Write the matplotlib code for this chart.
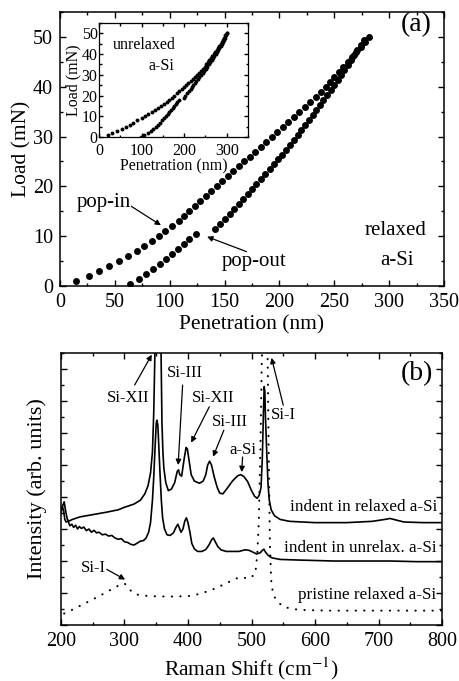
import matplotlib

matplotlib.use("Agg")
import matplotlib.pyplot as plt
from matplotlib.ticker import MultipleLocator, NullFormatter

plt.rcParams["font.family"] = ["Liberation Serif", "DejaVu Serif"]
plt.rcParams["mathtext.fontset"] = "stix"

# (a) relaxed a-Si: load (mN) and penetration (nm)
load_in = [1, 2, 3, 4, 5, 6, 7, 8, 9, 10, 11, 12, 13, 14, 15, 16, 17, 18, 19, 20,
           21, 22, 23, 24, 25, 26, 27, 28, 29, 30, 31, 32, 33, 34, 35, 36, 37, 38, 39, 40,
           41, 42, 43, 44, 45, 46, 47, 48, 49, 50]
pen_in = [15, 26, 36, 45, 54, 62, 70, 77, 84, 90, 96, 102, 108, 113, 118, 123, 128, 133, 138, 143,
          148, 153, 158, 163, 168, 173, 178, 183, 188, 193, 198, 203, 208, 213, 218, 223, 228, 233, 238, 242,
          246, 250, 254, 258, 262, 266, 270, 274, 278, 282]
load_out = [0.4, 1.4, 2.4, 3.4, 4.4, 5.4, 6.4, 7.4, 8.4, 9.4, 10.4,
            11.4, 12.4, 13.4, 14.4, 15.4, 16.4, 17.4, 18.4, 19.4, 20.4, 21.4, 22.4, 23.4, 24.4,
            25.4, 26.4, 27.4, 28.4, 29.4, 30.4, 31.4, 32.4, 33.4, 34.4, 35.4, 36.4, 37.4, 38.4,
            39.4, 40.4, 41.4, 42.4, 43.4, 44.4, 45.4, 46.4, 47.4, 48.4, 49.4]
pen_out = [64, 72, 78.5, 85, 91, 96.5, 102, 107.5, 113, 118, 123.5,
           141, 146, 150.5, 155, 159, 163, 167, 171, 175, 179, 183, 187, 191, 195,
           199, 202.5, 206, 209.5, 213, 216.5, 220, 223.5, 227, 230.5, 233.5, 237, 240, 243.5,
           246.5, 250, 253, 256, 259, 262, 265, 268, 271, 274, 277]

# inset: unrelaxed a-Si
ins_load_in = list(range(1, 51))
ins_pen_in = [20, 31, 43, 53, 63, 72, 81, 90, 100, 108, 116, 124, 132, 139, 146, 152, 159, 165, 171, 177,
              183, 189, 194, 199, 205, 210, 215, 220, 225, 230, 234.5, 239, 243.5, 248, 252, 256, 259.5, 263,
              266.5, 270, 273.5, 277, 280, 283, 286, 289, 292, 294.5, 297, 300]
ins_load_out = list(range(0, 51))
ins_pen_out = [98, 106, 114, 122, 128, 134, 139, 144, 147, 152, 157, 161, 165, 169, 173, 177, 180, 183.5, 187,
               199, 203, 207, 211, 215, 218.5, 222, 225.5, 229, 232.5, 236, 240, 243.5, 247, 250.5, 254,
               257.5, 261, 264.5, 268, 271, 274, 277, 280, 283, 286, 288.5, 291, 293.5, 296, 298, 300]

# (b) Raman spectra (arb. units, offset)
shift_relaxed = [200, 203, 205, 207, 210, 213, 218, 230, 250, 270, 290, 300, 315, 325, 332, 337, 341, 344,
                 346, 348, 350, 352, 354, 356, 357.5, 359, 360.5, 362, 365, 369, 374, 379, 383, 385, 387,
                 390, 394, 397, 399, 402, 405, 410, 418, 424, 428, 431, 434, 437, 441, 446, 450, 455, 462,
                 470, 478, 483, 488, 494, 500, 505, 509, 512, 515, 517, 519, 520, 521, 522, 524, 526, 528,
                 531, 536, 545, 560, 600, 650, 690, 710, 718, 728, 740, 770, 800]
int_relaxed = [3.55, 3.75, 3.85, 3.6, 3.3, 3.25, 3.3, 3.38, 3.45, 3.52, 3.6, 3.68, 3.78, 3.9, 4.1, 4.35, 4.75, 5.4,
               6.6, 8.6, 11, 12, 11.5, 10, 8.6, 6.3, 5.4, 4.9, 4.45, 4.2, 4.25, 4.45, 4.8, 4.85, 4.7,
               4.65, 5.2, 5.55, 5.5, 5.1, 4.7, 4.5, 4.43, 4.5, 4.7, 5.0, 5.12, 5.0, 4.65, 4.3, 4.12, 4.1, 4.28,
               4.5, 4.66, 4.7, 4.64, 4.48, 4.2, 4.02, 3.96, 4.05, 4.3, 5.2, 6.8, 7.45, 7.3, 6.5, 5.4, 4.4, 3.9,
               3.6, 3.42, 3.3, 3.24, 3.2, 3.2, 3.24, 3.3, 3.33, 3.28, 3.22, 3.2, 3.2]

shift_unrelax = [200, 202, 204, 206, 208, 211, 214, 217, 220, 223, 226, 229, 232, 236, 240, 244, 248, 252,
                 256, 260, 265, 270, 275, 280, 285, 290, 295, 300, 305, 310, 315, 320, 325, 330, 334, 338,
                 341, 344, 346, 348, 350, 351, 352.5, 354, 356, 358, 360, 363, 367, 372, 377, 381, 384, 386,
                 389, 392, 395, 397.5, 400, 403, 406, 410, 415, 422, 428, 433, 437, 440, 443, 447, 452, 460,
                 470, 480, 490, 495, 500, 508, 514, 517, 519.5, 522, 526, 532, 545, 575, 630, 680, 720, 760, 800]
int_unrelax = [3.5, 3.7, 3.6, 3.3, 3.22, 3.25, 3.1, 3.15, 3.05, 3.12, 3.0, 3.08, 3.02, 3.06, 2.95, 3.0, 2.9, 2.96,
               2.88, 2.9, 2.82, 2.84, 2.78, 2.8, 2.72, 2.68, 2.7, 2.6, 2.58, 2.52, 2.5, 2.56, 2.62, 2.64, 2.72, 2.9,
               3.2, 3.9, 4.6, 5.5, 6.3, 6.4, 6.25, 5.6, 4.7, 3.9, 3.35, 3.0, 2.82, 2.8, 2.88, 3.05, 3.15, 3.05,
               2.9, 3.0, 3.25, 3.35, 3.2, 2.9, 2.55, 2.38, 2.3, 2.3, 2.36, 2.5, 2.66, 2.72, 2.6, 2.45, 2.35, 2.3,
               2.3, 2.3, 2.35, 2.34, 2.3, 2.22, 2.26, 2.33, 2.37, 2.28, 2.18, 2.1, 2.05, 2.03, 2.0, 2.0, 2.0, 1.98, 1.98]

shift_pristine = [205, 220, 240, 260, 280, 295, 300, 305, 312, 320, 340, 370, 400, 420, 440, 460, 475, 485,
                  495, 503, 506, 509, 511.5, 514, 516, 518, 521, 524, 525.5, 527, 529, 531, 534, 540, 550,
                  565, 580, 620, 700, 800]
int_pristine = [0.36, 0.5, 0.7, 0.9, 1.12, 1.28, 1.3, 1.2, 1.02, 0.95, 0.9, 0.89, 0.9, 0.98, 1.12, 1.3, 1.45, 1.5,
                1.44, 1.55, 1.6, 2.2, 3.2, 5.5, 8.0, 9.8, 10.5, 9.8, 8.2, 5.5, 2.5, 1.4, 0.95, 0.75, 0.57,
                0.5, 0.47, 0.45, 0.45, 0.45]

TICK_SIZE = 14.5
LABEL_SIZE = 15.5


def style_axis(ax, size=TICK_SIZE):
    ax.tick_params(which="both", direction="in", top=True, right=True, labelsize=size, width=1.0)
    ax.tick_params(which="major", length=4, pad=5)
    ax.tick_params(which="minor", length=2.5)
    for spine in ax.spines.values():
        spine.set_linewidth(1.1)


def arrow(ax, text_xy, tip_xy):
    ax.annotate("", xy=tip_xy, xytext=text_xy,
                arrowprops=dict(arrowstyle="-|>", color="k", lw=0.9, mutation_scale=8, shrinkA=0, shrinkB=0))


def draw_load(ax):
    ax.plot(pen_in, load_in, "o", color="k", ms=5.0, mec="none")
    ax.plot(pen_out, load_out, "o", color="k", ms=5.0, mec="none")
    ax.set_xlim(0, 350)
    ax.set_ylim(0, 55)
    ax.xaxis.set_major_locator(MultipleLocator(50))
    ax.xaxis.set_minor_locator(MultipleLocator(25))
    ax.yaxis.set_major_locator(MultipleLocator(10))
    ax.yaxis.set_minor_locator(MultipleLocator(5))
    style_axis(ax)
    ax.set_xlabel("Penetration (nm)", fontsize=LABEL_SIZE, labelpad=2)
    ax.set_ylabel("Load (mN)", fontsize=LABEL_SIZE, labelpad=1)
    ax.text(40, 16.7, "pop-in", fontsize=15, ha="center", va="center")
    arrow(ax, (65, 16.0), (92, 12.2))
    ax.text(177, 4.9, "pop-out", fontsize=15, ha="center", va="center")
    arrow(ax, (170, 6.9), (134, 9.9))
    ax.text(306, 11.2, "relaxed", fontsize=15, ha="center", va="center")
    ax.text(307, 5.2, "a-Si", fontsize=15, ha="center", va="center")
    ax.text(325, 52.4, "(a)", fontsize=20, ha="center", va="center")


def draw_inset(ax):
    ax.plot(ins_pen_in, ins_load_in, "o", color="k", ms=2.8, mec="none")
    ax.plot(ins_pen_out, ins_load_out, "o", color="k", ms=2.8, mec="none")
    ax.set_xlim(0, 350)
    ax.set_ylim(0, 55)
    ax.xaxis.set_major_locator(MultipleLocator(100))
    ax.xaxis.set_minor_locator(MultipleLocator(50))
    ax.yaxis.set_major_locator(MultipleLocator(10))
    ax.yaxis.set_minor_locator(MultipleLocator(5))
    style_axis(ax, size=11.5)
    ax.tick_params(which="major", length=3)
    ax.tick_params(axis="x", which="major", pad=4)
    ax.tick_params(axis="y", which="major", pad=1)
    ax.tick_params(which="minor", length=1.8)
    for spine in ax.spines.values():
        spine.set_linewidth(0.9)
    ax.set_xlabel("Penetration (nm)", fontsize=11.5, labelpad=0)
    ax.set_ylabel("Load (mN)", fontsize=11.5, labelpad=0)
    ax.text(107, 44.6, "unrelaxed", fontsize=11.5, ha="center", va="center")
    ax.text(147, 34.3, "a-Si", fontsize=11.5, ha="center", va="center")


def draw_raman(ax):
    ax.plot(shift_relaxed, int_relaxed, color="k", lw=1.2)
    ax.plot(shift_unrelax, int_unrelax, color="k", lw=1.2)
    ax.plot(shift_pristine, int_pristine, color="k", lw=1.5, linestyle=(0, (0.1, 4.0)), dash_capstyle="round")
    ax.set_xlim(200, 800)
    ax.set_ylim(0, 8.5)
    ax.xaxis.set_major_locator(MultipleLocator(100))
    ax.xaxis.set_minor_locator(MultipleLocator(50))
    ax.yaxis.set_major_locator(MultipleLocator(1))
    ax.yaxis.set_minor_locator(MultipleLocator(0.5))
    ax.yaxis.set_major_formatter(NullFormatter())
    style_axis(ax)
    ax.set_xlabel("Raman Shift (cm$^{-1}$)", fontsize=LABEL_SIZE, labelpad=3)
    ax.set_ylabel("Intensity (arb. units)", fontsize=16, labelpad=5)

    label_kw = dict(fontsize=12, ha="center", va="center")
    ax.text(305, 7.1, "Si-XII", **label_kw)
    arrow(ax, (316, 7.5), (343, 8.45))
    ax.text(395, 7.87, "Si-III", **label_kw)
    arrow(ax, (391.5, 7.5), (384.5, 5.0))
    ax.text(440, 7.08, "Si-XII", **label_kw)
    arrow(ax, (433.5, 6.82), (405, 5.7))
    ax.text(466, 6.35, "Si-III", **label_kw)
    arrow(ax, (456.5, 6.09), (439.5, 5.26))
    ax.text(487, 5.47, "a-Si", **label_kw)
    arrow(ax, (486, 5.25), (484.5, 4.78))
    ax.text(550, 6.55, "Si-I", **label_kw)
    arrow(ax, (550, 6.87), (531.5, 8.35))
    ax.text(251, 1.77, "Si-I", **label_kw)
    arrow(ax, (272, 1.74), (301, 1.42))
    ax.text(760, 7.87, "(b)", fontsize=20, ha="center", va="center")

    side_kw = dict(fontsize=12.3, ha="right", va="center")
    ax.text(792, 3.7, "indent in relaxed a-Si", **side_kw)
    ax.text(792, 2.4, "indent in unrelax. a-Si", **side_kw)
    ax.text(791, 0.94, "pristine relaxed a-Si", **side_kw)


def main() -> None:
    fig = plt.figure(figsize=(4.6, 6.81), dpi=100)
    ax_load = fig.add_axes([0.1304, 0.580, 0.835, 0.4023])
    ax_inset = fig.add_axes([0.2152, 0.7988, 0.3239, 0.1674])
    ax_raman = fig.add_axes([0.1326, 0.0822, 0.8283, 0.3994])
    draw_load(ax_load)
    draw_inset(ax_inset)
    draw_raman(ax_raman)
    fig.savefig("out.png", dpi=100)
    plt.close(fig)


if __name__ == "__main__":
    main()
